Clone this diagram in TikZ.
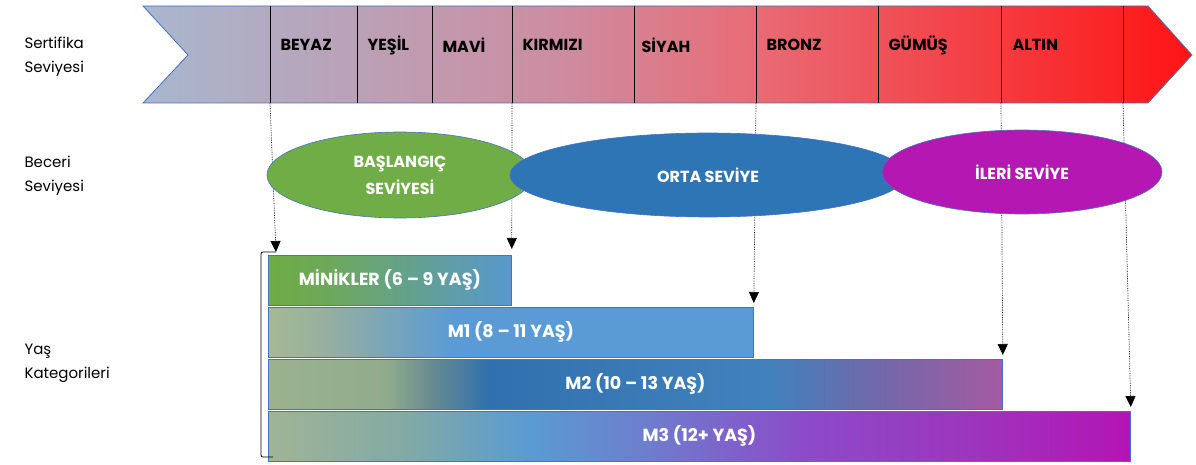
\documentclass[tikz,border=0pt]{standalone}
\usepackage{fontspec}
\setmainfont{Poppins}
\usepackage{tikz}
\usetikzlibrary{
    arrows.meta,
    shapes.geometric,
    positioning
}
\definecolor{edgeblue}{RGB}{68,114,196}
\definecolor{begingreen}{RGB}{112,173,71}
\definecolor{midblue}{RGB}{46,117,182}
\definecolor{advpurple}{RGB}{181,24,178}

\pgfdeclarehorizontalshading{bannershade}{100bp}{color(0bp)=(rgb,255:red,168;green,183;blue,206);
    color(25bp)=(rgb,255:red,168;green,183;blue,206);
    color(45bp)=(rgb,255:red,205;green,140;blue,160);
    color(54bp)=(rgb,255:red,232;green,108;blue,118);
    color(75bp)=(rgb,255:red,255;green,20;blue,20);
    color(100bp)=(rgb,255:red,255;green,20;blue,20)}
\pgfdeclarehorizontalshading{minishade}{100bp}{color(0bp)=(rgb,255:red,110;green,172;blue,68);
    color(25bp)=(rgb,255:red,110;green,172;blue,68);
    color(38bp)=(rgb,255:red,108;green,168;blue,92);
    color(75bp)=(rgb,255:red,88;green,152;blue,206);
    color(100bp)=(rgb,255:red,88;green,152;blue,206)}
\pgfdeclarehorizontalshading{mashade}{100bp}{color(0bp)=(rgb,255:red,165;green,185;blue,150);
    color(25bp)=(rgb,255:red,165;green,185;blue,150);
    color(31bp)=(rgb,255:red,150;green,175;blue,160);
    color(44bp)=(rgb,255:red,90;green,155;blue,213);
    color(75bp)=(rgb,255:red,90;green,155;blue,213);
    color(100bp)=(rgb,255:red,90;green,155;blue,213)}
\pgfdeclarehorizontalshading{mbshade}{100bp}{color(0bp)=(rgb,255:red,155;green,178;blue,142);
    color(25bp)=(rgb,255:red,155;green,178;blue,142);
    color(33bp)=(rgb,255:red,145;green,172;blue,140);
    color(36bp)=(rgb,255:red,105;green,140;blue,145);
    color(40bp)=(rgb,255:red,48;green,112;blue,174);
    color(59bp)=(rgb,255:red,65;green,130;blue,190);
    color(66bp)=(rgb,255:red,110;green,105;blue,170);
    color(75bp)=(rgb,255:red,165;green,90;blue,162);
    color(100bp)=(rgb,255:red,165;green,90;blue,162)}
\pgfdeclarehorizontalshading{mcshade}{100bp}{color(0bp)=(rgb,255:red,160;green,180;blue,150);
    color(25bp)=(rgb,255:red,160;green,180;blue,150);
    color(33bp)=(rgb,255:red,130;green,170;blue,165);
    color(40bp)=(rgb,255:red,90;green,155;blue,210);
    color(47bp)=(rgb,255:red,110;green,125;blue,205);
    color(56bp)=(rgb,255:red,140;green,75;blue,200);
    color(65bp)=(rgb,255:red,155;green,55;blue,190);
    color(75bp)=(rgb,255:red,180;green,20;blue,180);
    color(100bp)=(rgb,255:red,180;green,20;blue,180)}

\tikzset{sidelabel/.style={anchor=west, align=left, font=\fontsize{15}{24}\selectfont}}
\tikzset{certlabel/.style={anchor=west, font=\fontsize{16}{18}\selectfont\bfseries}}
\tikzset{skill/.style={ellipse, draw=edgeblue, line width=0.6pt, text=white, align=center,
    font=\fontsize{16}{27}\selectfont\bfseries}}
\tikzset{agebox/.style={draw=edgeblue, line width=0.8pt, anchor=north west, minimum height=50pt,
    inner sep=0pt, text=white, font=\fontsize{17.5}{19}\selectfont\bfseries}}
\tikzset{flow/.style={densely dotted, line width=0.7pt, -{Triangle[width=10pt,length=11pt]}}}

\begin{document}
\begin{tikzpicture}[x=1pt, y=-1pt]
    \useasboundingbox (0,0) rectangle (1196,465);

    % certificate band
    \path[shading=bannershade] (143,6) -- (1148,6) -- (1192,55) -- (1148,103) -- (143,103) -- (188,55) -- cycle;
    \draw[edgeblue, line width=0.8pt] (143,6) -- (1148,6) -- (1192,55) -- (1148,103) -- (143,103) -- (188,55) -- cycle;

    \coordinate (d1) at (270,103);
    \coordinate (d2) at (357,103);
    \coordinate (d3) at (432,103);
    \coordinate (d4) at (512,103);
    \coordinate (d5) at (634,103);
    \coordinate (d6) at (756,103);
    \coordinate (d7) at (878,103);
    \coordinate (d8) at (1001,103);
    \coordinate (d9) at (1123,103);
    \draw[line width=0.8pt]
    (d1) -- ++(0,-97) (d2) -- ++(0,-97) (d3) -- ++(0,-97)
    (d4) -- ++(0,-97) (d5) -- ++(0,-97) (d6) -- ++(0,-97)
    (d7) -- ++(0,-97) (d8) -- ++(0,-97) (d9) -- ++(0,-97);

    \node[certlabel] (beyaz) at (277,45) {BEYAZ};
    \node[certlabel] (yesil) at (364,45) {YEŞİL};
    \node[certlabel] (mavi) at (439,45) {MAVİ};
    \node[certlabel] (kirmizi) at (519,45) {KIRMIZI};
    \node[certlabel] (siyah) at (638,45) {SİYAH};
    \node[certlabel] (bronz) at (763,45) {BRONZ};
    \node[certlabel] (gumus) at (885,45) {GÜMÜŞ};
    \node[certlabel] (altin) at (1009,45) {ALTIN};

    \node[sidelabel] (sertifika) at (21,57) {Sertifika\\Seviyesi};
    \node[sidelabel] (beceri) at (21,176) {Beceri\\Seviyesi};
    \node[sidelabel] (yas) at (21,363) {Yaş\\Kategorileri};

    % age groups
    \node[agebox, shading=minishade, minimum width=243pt] (mini) at (268,255) {MİNİKLER (6 – 9 YAŞ)};
    \node[agebox, shading=mashade, minimum width=485pt] (ma) at (268,307) {M1 (8 – 11 YAŞ)};
    \node[agebox, shading=mbshade, minimum width=734pt] (mb) at (268,359) {M2 (10 – 13 YAŞ)};
    \node[agebox, shading=mcshade, minimum width=862pt] (mc) at (268,411) {M3 (12+ YAŞ)};

    \draw
    (d1) edge[flow] ([xshift=8pt,yshift=3pt]mini.north west)
    (d4) edge[flow] ([yshift=6pt]mini.north east)
    (d6) edge[flow] ([yshift=4pt]ma.north east)
    (d8) edge[flow] ([yshift=4pt]mb.north east)
    (d9) edge[flow] ([yshift=4pt]mc.north east);

    % skill levels
    \node[skill, fill=begingreen, minimum width=266pt, minimum height=86pt] (basla) at (400,175) {BAŞLANGIÇ\\SEVİYESİ};
    \node[skill, fill=midblue, minimum width=396pt, minimum height=84pt] (orta) at (708,175) {ORTA SEVİYE};
    \node[skill, fill=advpurple, minimum width=280pt, minimum height=84pt] (ileri) at (1022,172) {İLERİ SEVİYE};

    \draw[line width=0.8pt, rounded corners=2pt] (276,252) -- (261,252) -- (261,457) -- (273,457);
\end{tikzpicture}
\end{document}
